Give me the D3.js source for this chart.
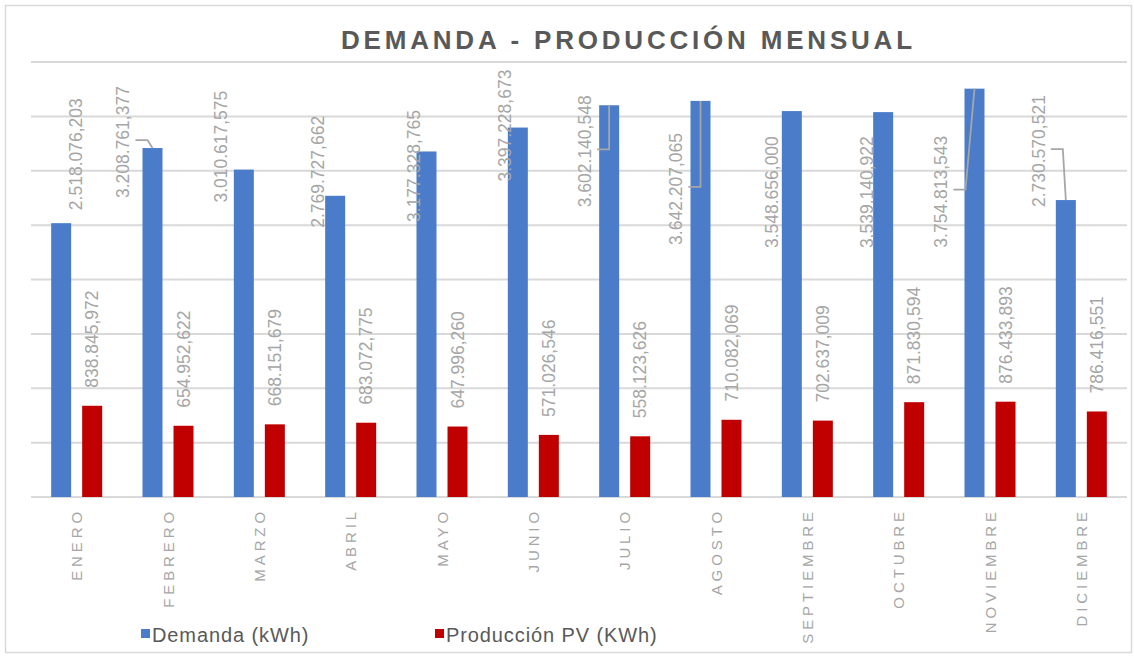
<!DOCTYPE html>
<html>
<head>
<meta charset="utf-8">
<script src="https://cdn.jsdelivr.net/npm/d3@7"></script>
<style>
  body { margin: 0; background: #fff; }
  text { font-family: "Liberation Sans", Arial, sans-serif; }
</style>
</head>
<body>
<div id="chart"></div>
<script>
var width = 1134;
var height = 658;

var months = ['ENERO', 'FEBRERO', 'MARZO', 'ABRIL', 'MAYO', 'JUNIO', 'JULIO',
    'AGOSTO', 'SEPTIEMBRE', 'OCTUBRE', 'NOVIEMBRE', 'DICIEMBRE'];
var demanda = [2518076.203, 3208761.377, 3010617.575, 2769727.662, 3177328.765, 3397228.673,
    3602140.548, 3642207.065, 3548656.000, 3539140.922, 3754813.543, 2730570.521];
var produccion = [838845.972, 654952.622, 668151.679, 683072.775, 647996.260, 571026.546,
    558123.626, 710082.069, 702637.009, 871830.594, 876433.893, 786416.551];
var seriesNames = ['Demanda (kWh)', 'Producción PV (KWh)'];
var yTicks = [0, 500000, 1000000, 1500000, 2000000, 2500000, 3000000, 3500000, 4000000];

// where the demand labels were dragged to (px from bar centre / bar top), and which have leader lines
var demLabelDx = [15, -29, -23, -17, -12.5, -13, -24, -24, -20, -16, -33, -27];
var demLabelDy = [-13, 50, 33, 32, 70.5, 54, 102, 144, 137, 136, 159, 7];
var demLeader = [false, true, false, false, false, false, true, true, false, false, true, true];

var colors = ['#4a7cc9', '#c00000'];
var labelGray = '#a6a6a6';

var svg = d3.select('#chart')
    .append('svg')
    .attr('width', width)
    .attr('height', height);

svg.append('rect')
    .attr('x', 5.5).attr('y', 5.5)
    .attr('width', 1126).attr('height', 647)
    .attr('fill', '#fff')
    .attr('stroke', '#d9d9d9')
    .attr('stroke-width', 1.5);

var x = d3.scaleBand().domain(months).range([31, 1127]).padding(0);
var x1 = d3.scaleBand().domain([0, 1]).range([0, x.bandwidth()])
    .paddingInner(0.355).paddingOuter(0.65);
var y = d3.scaleLinear().domain([0, 4000000]).range([497, 62]);

// gridlines
svg.append('g')
    .selectAll('line')
    .data(yTicks)
    .enter().append('line')
    .attr('x1', 31).attr('x2', 1127)
    .attr('y1', function(d) { return y(d); })
    .attr('y2', function(d) { return y(d); })
    .attr('stroke', '#d9d9d9')
    .attr('stroke-width', 2);

// title
svg.append('text')
    .attr('x', 341).attr('y', 49)
    .attr('font-size', 26)
    .attr('font-weight', 'bold')
    .attr('letter-spacing', 3.8)
    .attr('fill', '#595959')
    .text('DEMANDA - PRODUCCIÓN MENSUAL');

var data = months.map(function(m, i) {
    return { month: m, values: [demanda[i], produccion[i]], i: i };
});

var groups = svg.append('g')
    .selectAll('g.month')
    .data(data)
    .enter().append('g')
    .attr('class', 'month')
    .attr('transform', function(d) { return 'translate(' + x(d.month) + ',0)'; });

groups.selectAll('rect')
    .data(function(d) { return d.values; })
    .enter().append('rect')
    .attr('x', function(d, j) { return x1(j); })
    .attr('width', x1.bandwidth())
    .attr('y', function(d) { return y(d); })
    .attr('height', function(d) { return y(0) - y(d); })
    .attr('fill', function(d, j) { return colors[j]; });

var es = d3.formatLocale({ decimal: ',', thousands: '.', grouping: [3], currency: ['', '€'] });
var fmt = es.format(',.3f');

// production labels, outside end
groups.append('text')
    .attr('transform', function(d) {
        var cx = x1(1) + x1.bandwidth() / 2;
        return 'translate(' + cx + ',' + (y(d.values[1]) - 18) + ') rotate(-90)';
    })
    .attr('dominant-baseline', 'central')
    .attr('font-size', 17.5)
    .attr('fill', labelGray)
    .text(function(d) { return fmt(d.values[1]); });

// demand labels, moved by hand
groups.each(function(d) {
    var g = d3.select(this);
    var i = d.i;
    var barCx = x1(0) + x1.bandwidth() / 2;
    var barTop = y(d.values[0]);
    var lx = barCx + demLabelDx[i];
    var ly = barTop + demLabelDy[i];
    var t = g.append('text')
        .attr('transform', 'translate(' + lx + ',' + ly + ') rotate(-90)')
        .attr('dominant-baseline', 'central')
        .attr('font-size', 17.5)
        .attr('fill', labelGray)
        .text(fmt(d.values[0]));
    if (demLeader[i]) {
        var len = t.node().getComputedTextLength();
        var midY = ly - len / 2 - 2;
        var knee = Math.min(lx + 24, barCx);
        g.append('path')
            .attr('d', 'M' + (knee - 12) + ',' + midY + 'H' + knee + 'L' + barCx + ',' + barTop)
            .attr('fill', 'none')
            .attr('stroke', labelGray)
            .attr('stroke-width', 1.8);
    }
});

// category axis labels
svg.append('g')
    .selectAll('text')
    .data(months)
    .enter().append('text')
    .attr('transform', function(d) {
        return 'translate(' + (x(d) + x.bandwidth() / 2) + ',508) rotate(-90)';
    })
    .attr('text-anchor', 'end')
    .attr('dominant-baseline', 'central')
    .attr('font-size', 15)
    .attr('letter-spacing', 3.9)
    .attr('fill', labelGray)
    .text(function(d) { return d; });

// legend
var legendX = [141, 435];
var legend = svg.append('g')
    .selectAll('g')
    .data(seriesNames)
    .enter().append('g')
    .attr('transform', function(d, j) { return 'translate(' + legendX[j] + ',0)'; });
legend.append('rect')
    .attr('x', 0).attr('y', 629)
    .attr('width', 9).attr('height', 9)
    .attr('fill', function(d, j) { return colors[j]; });
legend.append('text')
    .attr('x', 11).attr('y', 642)
    .attr('font-size', 20)
    .attr('letter-spacing', 0.9)
    .attr('fill', '#595959')
    .text(function(d) { return d; });
</script>
</body>
</html>
